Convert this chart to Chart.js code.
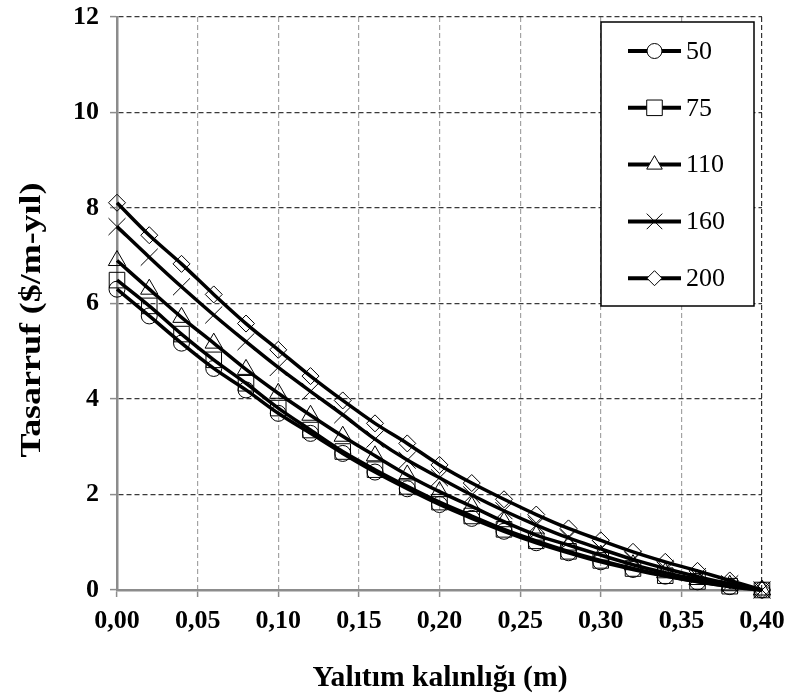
<!DOCTYPE html>
<html>
<head>
<meta charset="utf-8">
<title>Tasarruf</title>
<script src="https://cdn.jsdelivr.net/npm/chart.js@4.4.1/dist/chart.umd.min.js"></script>
<style>
  html, body { margin: 0; padding: 0; background: #fff; }
  #wrap { width: 787px; height: 697px; }
</style>
</head>
<body>
<div id="wrap"><canvas id="savingsChart" width="787" height="697"></canvas></div>
<script>
// insulation thickness (m)
const thickness = [0.00, 0.02, 0.04, 0.06, 0.08, 0.10, 0.12, 0.14, 0.16, 0.18, 0.20,
  0.22, 0.24, 0.26, 0.28, 0.30, 0.32, 0.34, 0.36, 0.38, 0.40];

const seriesNames = ["50", "75", "110", "160", "200"];

// yearly saving ($/m-yıl) per series
const saving50 = [6.30, 5.74, 5.17, 4.64, 4.19, 3.70, 3.28, 2.86, 2.47, 2.12, 1.79,
  1.50, 1.23, 0.99, 0.78, 0.59, 0.43, 0.29, 0.17, 0.07, 0.00];
const saving75 = [6.49, 5.95, 5.36, 4.82, 4.33, 3.81, 3.35, 2.90, 2.52, 2.17, 1.84,
  1.55, 1.27, 1.03, 0.81, 0.62, 0.45, 0.30, 0.18, 0.08, 0.00];
const saving110 = [6.90, 6.30, 5.71, 5.17, 4.62, 4.12, 3.66, 3.22, 2.81, 2.41, 2.06,
  1.75, 1.43, 1.15, 0.94, 0.73, 0.53, 0.36, 0.22, 0.10, 0.00];
const saving160 = [7.61, 6.97, 6.35, 5.76, 5.20, 4.66, 4.16, 3.67, 3.16, 2.72, 2.35,
  1.99, 1.66, 1.36, 1.09, 0.86, 0.64, 0.45, 0.28, 0.13, 0.00];
const saving200 = [8.11, 7.43, 6.83, 6.19, 5.58, 5.03, 4.48, 3.97, 3.49, 3.07, 2.62,
  2.24, 1.90, 1.58, 1.29, 1.04, 0.80, 0.59, 0.40, 0.20, 0.00];

const xTickValues = [0, 0.05, 0.10, 0.15, 0.20, 0.25, 0.30, 0.35, 0.40];
const xTickLabels = ["0,00", "0,05", "0,10", "0,15", "0,20", "0,25", "0,30", "0,35", "0,40"];
const yTickValues = [0, 2, 4, 6, 8, 10, 12];
const yTickLabels = ["0", "2", "4", "6", "8", "10", "12"];

const xTitle = "Yalıtım kalınlığı (m)";
const yTitle = "Tasarruf ($/m-yıl)";

const serif = "'Liberation Serif', 'Times New Roman', serif";

const allSeries = [saving50, saving75, saving110, saving160, saving200];
const markerStyles = ["circle", "rect", "triangle", "crossRot", "rectRot"];
const markerSizes = [8, 11, 10, 12, 8.5];
const legendSizes = [7.5, 11, 9, 11, 7.5];

const datasets = allSeries.map((values, i) => ({
  label: seriesNames[i],
  data: values.map((v, j) => ({ x: thickness[j], y: v })),
  borderColor: "#000",
  borderWidth: 3.5,
  cubicInterpolationMode: "monotone",
  pointStyle: markerStyles[i],
  pointRadius: markerSizes[i],
  pointHoverRadius: markerSizes[i],
  pointBorderColor: "#000",
  pointBackgroundColor: "rgba(0,0,0,0)",
  pointBorderWidth: 1,
  clip: false,
}));

// boxed legend: a line sample with its marker, then the name
const boxLegend = {
  id: "boxLegend",
  afterDraw(chart) {
    const ctx = chart.ctx;
    ctx.save();
    ctx.fillStyle = "#fff";
    ctx.fillRect(601, 22, 153, 284);
    ctx.strokeStyle = "#000";
    ctx.lineWidth = 1.5;
    ctx.strokeRect(601, 22, 153, 284);

    seriesNames.forEach((name, i) => {
      const y = 51 + i * 56.8;
      ctx.strokeStyle = "#000";
      ctx.lineWidth = 4;
      ctx.beginPath();
      ctx.moveTo(628, y);
      ctx.lineTo(681, y);
      ctx.stroke();

      ctx.fillStyle = "#fff";
      ctx.strokeStyle = "#000";
      ctx.lineWidth = 1;
      Chart.helpers.drawPoint(ctx, {
        pointStyle: markerStyles[i],
        radius: legendSizes[i],
        rotation: 0,
        borderWidth: 1,
      }, 654.5, y);

      ctx.fillStyle = "#000";
      ctx.font = "26px " + serif;
      ctx.textAlign = "left";
      ctx.textBaseline = "middle";
      ctx.fillText(name, 686, y + 1);
    });
    ctx.restore();
  },
};

// draws text centred at (x, y), stretched along its baseline to a set length
function stretchedText(ctx, text, x, y, length, angle) {
  ctx.save();
  ctx.translate(x, y);
  ctx.rotate(angle);
  const w = ctx.measureText(text).width;
  ctx.scale(length / w, 1);
  ctx.fillText(text, 0, 0);
  ctx.restore();
}

// axis titles placed by hand
const axisTitles = {
  id: "axisTitles",
  afterDraw(chart) {
    const ctx = chart.ctx;
    ctx.save();
    ctx.fillStyle = "#000";
    ctx.font = "bold 29px " + serif;
    ctx.textAlign = "center";
    ctx.textBaseline = "middle";
    stretchedText(ctx, xTitle, 440, 679, 255, 0);
    stretchedText(ctx, yTitle, 33, 320, 275, -Math.PI / 2);
    ctx.restore();
  },
};

new Chart(document.getElementById("savingsChart"), {
  type: "line",
  data: { datasets },
  options: {
    responsive: false,
    animation: false,
    devicePixelRatio: 1,
    layout: { padding: { left: 0, right: 25, top: 17, bottom: 0 } },
    plugins: {
      legend: { display: false },
      tooltip: { enabled: false },
    },
    scales: {
      x: {
        type: "linear",
        min: 0,
        max: 0.4,
        afterFit(scale) {
          scale.height = 107;
          scale.paddingLeft = 0;
          scale.paddingRight = 0;
        },
        afterBuildTicks(scale) { scale.ticks = xTickValues.map((v) => ({ value: v })); },
        ticks: {
          callback: (value, index) => xTickLabels[index],
          color: "#000",
          font: { family: serif, size: 26, weight: "bold" },
          padding: 9,
          maxRotation: 0,
        },
        grid: {
          color: (c) => (c.index === xTickValues.length - 1 ? "#333" : "#a3a3a3"),
          lineWidth: 1.2,
          tickColor: "#8c8c8c",
          tickLength: 7,
          tickWidth: 1.5,
        },
        border: { display: true, color: "#8c8c8c", width: 2.5, dash: [5, 3] },
      },
      y: {
        type: "linear",
        min: 0,
        max: 12,
        afterFit(scale) {
          scale.width = 117;
          scale.paddingTop = 0;
          scale.paddingBottom = 0;
        },
        afterBuildTicks(scale) { scale.ticks = yTickValues.map((v) => ({ value: v })); },
        ticks: {
          callback: (value, index) => yTickLabels[index],
          color: "#000",
          font: { family: serif, size: 26, weight: "bold" },
          padding: 11,
        },
        grid: {
          color: "#3a3a3a",
          lineWidth: 1.2,
          tickColor: "#8c8c8c",
          tickLength: 7,
          tickWidth: 1.5,
        },
        border: { display: true, color: "#8c8c8c", width: 2.5, dash: [5, 3] },
      },
    },
  },
  plugins: [boxLegend, axisTitles],
});
</script>
</body>
</html>
